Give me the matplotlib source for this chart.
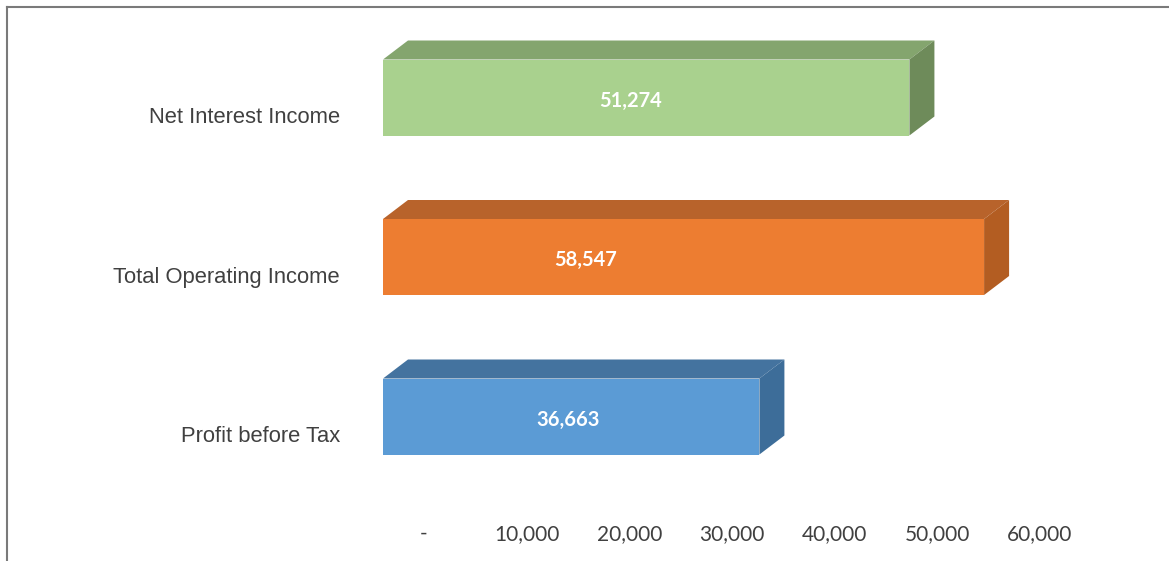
import matplotlib
matplotlib.use("Agg")
import matplotlib.pyplot as plt
from matplotlib.patches import Polygon
from matplotlib.lines import Line2D
from matplotlib.transforms import ScaledTranslation

# Data
categories = ["Net Interest Income", "Total Operating Income", "Profit before Tax"]
values = [51274, 58547, 36663]
value_labels = ["51,274", "58,547", "36,663"]
tick_values = [0, 10000, 20000, 30000, 40000, 50000, 60000]
tick_labels = ["-", "10,000", "20,000", "30,000", "40,000", "50,000", "60,000"]

# Styling
front_colors = ["#A9D18E", "#ED7D31", "#5B9BD5"]
top_colors = ["#84A56E", "#B8632B", "#44739F"]
side_colors = ["#6E8B5A", "#B35D22", "#3D6D99"]
label_x = [24100, 19700, 18050]   # where the value text sits along each bar

W, H, DPI = 1169, 561, 100
fig = plt.figure(figsize=(W / DPI, H / DPI), dpi=DPI)
fig.patch.set_facecolor("white")

# Plot area in pixels (front faces of the bars)
x0_px, x1_px = 383, 999
y_top_px, y_bot_px = 17.75, 496.25
ax = fig.add_axes([x0_px / W, 1 - y_bot_px / H,
                   (x1_px - x0_px) / W, (y_bot_px - y_top_px) / H])
ax.set_xlim(0, 60000)
ax.set_ylim(2.5, -0.5)
for s in ax.spines.values():
    s.set_visible(False)
ax.set_yticks([])

# Depth of the 3-D extrusion in pixels -> data units
depth_px_x, depth_px_y = 25, 19
dx = depth_px_x * 60000 / (x1_px - x0_px)
dy = depth_px_y * 3 / (y_bot_px - y_top_px)
h = 76 * 3 / (y_bot_px - y_top_px)

ypos = list(range(len(categories)))
ax.barh(ypos, values, height=h, color=front_colors, zorder=3)
for y, v, ct, cs in zip(ypos, values, top_colors, side_colors):
    top = Polygon([(0, y - h / 2), (v, y - h / 2), (v + dx, y - h / 2 - dy),
                   (dx, y - h / 2 - dy)], closed=True, facecolor=ct,
                  edgecolor="none", zorder=2, clip_on=False)
    side = Polygon([(v, y - h / 2), (v + dx, y - h / 2 - dy),
                    (v + dx, y + h / 2 - dy), (v, y + h / 2)], closed=True,
                   facecolor=cs, edgecolor="none", zorder=2, clip_on=False)
    ax.add_patch(top)
    ax.add_patch(side)

# Value labels on the bars
for y, lx, txt in zip(ypos, label_x, value_labels):
    ax.text(lx, y + 0.02, txt, color="white", fontsize=14.5, fontweight="bold",
            family="Lato", ha="center", va="center", zorder=5)

# Category labels to the left
for y, cat in zip(ypos, categories):
    ax.annotate(cat, xy=(0, y), xytext=(-43, -20), textcoords="offset pixels",
                ha="right", va="center", fontsize=15.8, family="Liberation Sans",
                color="#404040", annotation_clip=False)

# Value axis ticks
ax.set_xticks(tick_values)
ax.set_xticklabels(tick_labels, fontsize=15, family="Lato", color="#404040")
ax.tick_params(axis="x", length=0, pad=20)
shift = ScaledTranslation(41 / DPI, 0, fig.dpi_scale_trans)
for lab in ax.get_xticklabels():
    lab.set_transform(lab.get_transform() + shift)

# Outer frame (top and left edges)
fig.add_artist(Line2D([6.5 / W, 1.0], [1 - 6.5 / H, 1 - 6.5 / H],
                      transform=fig.transFigure, color="#7a7a7a", lw=1.5))
fig.add_artist(Line2D([6.5 / W, 6.5 / W], [0, 1 - 6.5 / H],
                      transform=fig.transFigure, color="#7a7a7a", lw=1.5))

fig.savefig("out.png", dpi=DPI, facecolor="white")
